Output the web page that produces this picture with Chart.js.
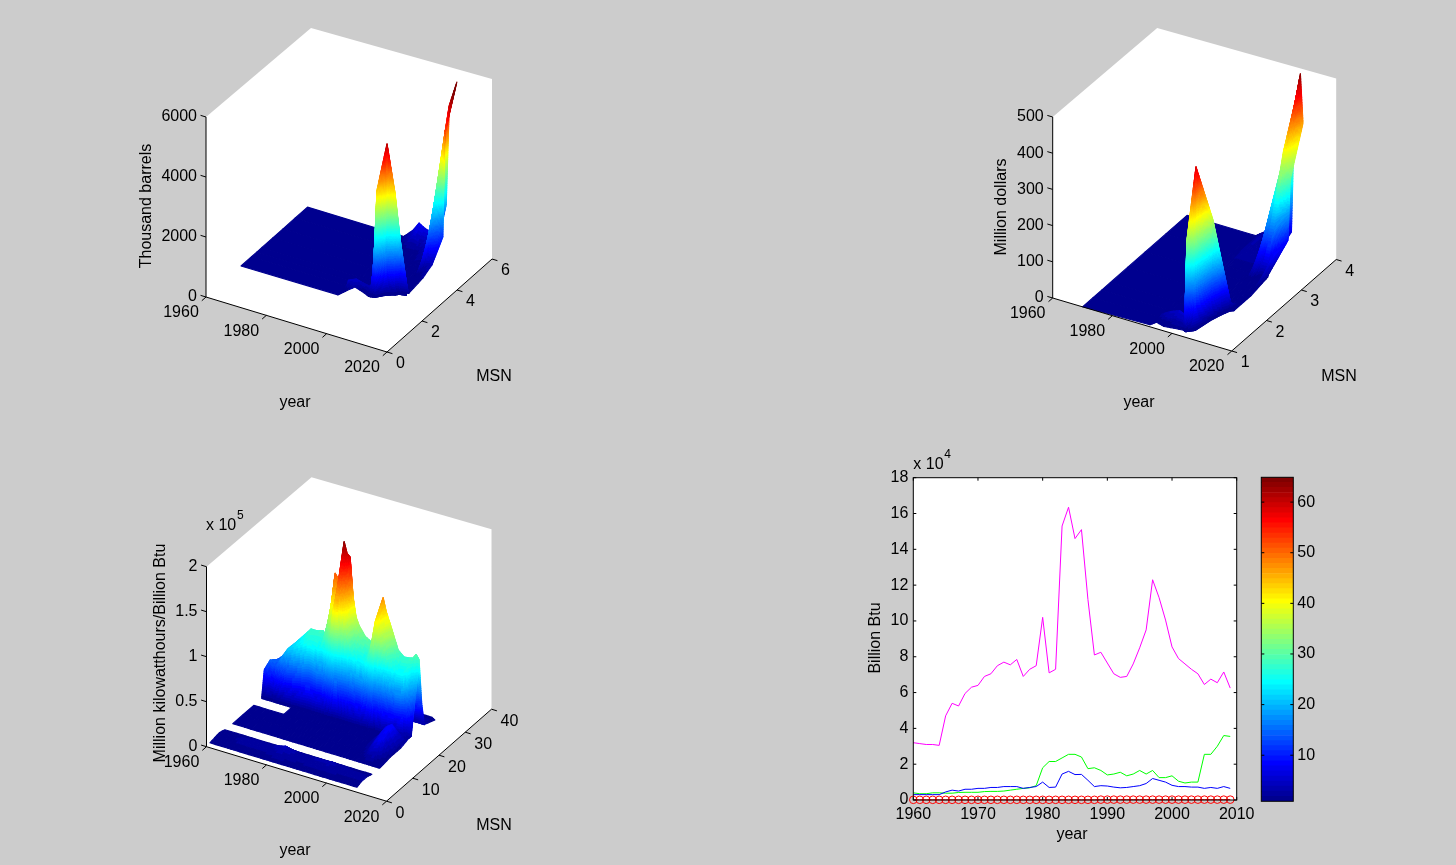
<!DOCTYPE html>
<html>
<head>
<meta charset="utf-8">
<style>
  html, body { margin: 0; padding: 0; background: #cccccc; width: 1456px; height: 865px; overflow: hidden; }
  canvas { position: absolute; }
</style>
<script src="https://cdn.jsdelivr.net/npm/chart.js@4"></script>
</head>
<body>
<canvas id="surf1" style="left:130px;top:20px" width="400" height="400"></canvas>
<canvas id="surf2" style="left:980px;top:20px" width="400" height="400"></canvas>
<canvas id="surf3" style="left:130px;top:465px" width="400" height="400"></canvas>
<canvas id="lines" style="left:860px;top:440px" width="400" height="420"></canvas>
<canvas id="cbar" style="left:1250px;top:460px" width="70" height="360"></canvas>
<script>
/********* surface 1: Thousand barrels *************/
const years1 = [1960, 1992, 1993, 1995, 1997, 1999, 2000, 2002, 2004, 2006, 2007, 2009];
const msn1 = [
  [2, 2.03, 2.37, 2.48, 2.54, 2.45, 2.4, 2.47, 2.72, 2.85, 2.95, 3],
  [2.6, 2.6, 2.45, 2.55, 2.6, 2.6, 2.65, 2.53, 2.76, 2.87, 3, 3.05],
  [2.9, 2.9, 2.9, 2.9, 2.9, 2.9, 2.9, 2.62, 2.85, 2.95, 3.1, 3.15],
  [3.2, 3.2, 3.2, 3.2, 3.2, 3.2, 3.2, 3.2, 3.3, 3.4, 3.95, 3.95],
  [3.8, 3.8, 3.8, 3.8, 3.8, 3.8, 3.8, 3.8, 3.9, 3.95, 4.46, 4.46],
  [4.4, 4.4, 4.4, 4.4, 4.4, 4.4, 4.4, 4.4, 4.5, 4.5, 4.98, 5.09],
  [5.1, 5.1, 5.1, 5.1, 5.1, 5.1, 5.1, 5.1, 5.1, 5.1, 5.55, 5.2],
  [5.8, 5.8, 5.8, 5.8, 5.8, 5.8, 5.8, 5.8, 5.8, 5.8, 5.8, 5.89]
];
const barrels = [
  [0, 0, 0, 120, 0, 0, 0, 0, 0, 0, 0, 0],
  [0, 0, 300, 350, 250, 200, 300, 3530, 5020, 3390, 1780, 200],
  [0, 0, 0, 0, 0, 0, 0, 0, 0, 0, 0, 0],
  [0, 0, 0, 0, 0, 0, 0, 0, 0, 0, 0, 90],
  [0, 0, 0, 0, 0, 0, 0, 0, 0, 0, 150, 257],
  [0, 0, 0, 0, 0, 0, 0, 0, 0, 150, 2100, 870],
  [0, 0, 0, 0, 0, 0, 0, 150, 300, 700, 4030, 4270],
  [0, 0, 100, 300, 600, 480, 450, 450, 500, 1500, 4830, 5620]
];

/********* surface 2: Million dollars *************/
const years2 = [1970, 1992, 1993, 1996, 1999, 2002, 2003, 2005, 2006, 2007, 2008, 2009];
const msn2 = [
  [1, 1.05, 1.16, 1.11, 1.14, 1.16, 1.14, 1.24, 1.6, 1.8, 1.95, 2],
  [1.3, 1.3, 1.3, 1.3, 1.3, 1.2, 1.17, 1.26, 1.66, 1.83, 1.98, 2.01],
  [1.55, 1.55, 1.55, 1.55, 1.5, 1.3, 1.3, 1.4, 1.75, 1.9, 2.02, 2.5],
  [1.8, 1.8, 1.8, 1.8, 1.8, 1.8, 1.8, 2.2, 2.3, 2.4, 2.5, 2.98],
  [2.3, 2.3, 2.3, 2.3, 2.3, 2.3, 2.3, 2.6, 2.7, 2.8, 2.8, 3.13],
  [2.8, 2.8, 2.8, 2.8, 2.8, 2.8, 2.8, 2.9, 3, 3, 3, 3.56],
  [3.4, 3.4, 3.4, 3.4, 3.4, 3.4, 3.18, 3.38, 3.73, 3.6, 3.6, 3.62],
  [4, 4, 4, 4, 4, 4, 4, 4, 4, 4, 4, 3.99]
];
const dollars = [
  [0, 0, 0, 0, 0, 0, 0, 0, 0, 0, 0, 0],
  [0, 0, 10, 25, 35, 40, 250, 450, 272, 144, 28, 0],
  [0, 0, 0, 0, 0, 0, 0, 0, 0, 0, 0, 0],
  [0, 0, 0, 0, 0, 0, 0, 0, 0, 0, 0, 11],
  [0, 0, 0, 0, 0, 0, 0, 0, 0, 0, 0, 59],
  [0, 0, 0, 0, 0, 0, 0, 0, 0, 0, 0, 64],
  [0, 0, 0, 15, 15, 15, 0, 144, 283, 300, 300, 225],
  [0, 0, 0, 18, 0, 0, 10, 40, 350, 429, 484, 351]
];

/********* surface 3: Million kilowatthours/Billion Btu, values in 10^5 *************/
const years3 = [1960, 1962, 1964, 1966, 1968, 1970, 1973, 1975, 1977, 1978, 1979, 1980, 1981, 1982, 1983, 1984, 1985, 1986, 1987, 1988, 1989, 1991, 1993, 1995, 1996, 1997, 1998, 2000, 2002, 2004, 2006, 2007, 2008, 2009];
const msn3 = [1.3, 3, 5, 7, 10, 14, 18, 21, 22, 25, 26, 27, 31];
const kwh = [
  [.01, .01, .01, .01, .01, .01, .01, .01, .01, .01, .01, .01, .01, .01, .01, .01, .01, .01, .01, .01, .01, .01, .01, .01, .01, .01, .01, .01, .01, .01, .01, .01, .01, .01],
  [.02, .02, .02, .02, .03, .03, .03, .03, .03, .04, .04, .05, .06, .06, .05, .05, .04, .04, .04, .03, .03, .04, .04, .04, .04, .05, .04, .04, .03, .03, .03, .03, .03, .03],
  [.03, .03, .03, .03, .04, .05, .05, .05, .05, .06, .07, .08, .09, .1, .09, .08, .07, .06, .05, .05, .05, .06, .07, .07, .07, .08, .07, .06, .05, .04, .04, .04, .04, .03],
  [.01, .01, .01, .01, .01, .01, .01, .01, .01, .01, .01, .01, .01, .01, .01, .01, .01, .01, .01, .01, .01, .01, .01, .01, .01, .01, .01, .01, .01, .01, .01, .01, .01, .01],
  [0, 0, 0, 0, 0, 0, 0, 0, 0, 0, 0, 0, 0, 0, 0, 0, 0, 0, 0, 0, 0, 0, 0, 0, 0, 0, 0, 0, 0, 0, 0, 0, 0, 0],
  [0, 0, 0, 0, 0, 0, 0, 0, 0, 0, 0, 0, 0, 0, 0, 0, 0, 0, 0, 0, 0, 0, 0, 0, 0, 0, 0, .02, .05, .15, .2, .1, .05, .02],
  [0, 0, 0, 0, 0, 0, 0, 0, 0, 0, 0, 0, 0, 0, 0, 0, 0, 0, 0, 0, 0, 0, 0, 0, 0, 0, 0, .03, .1, .2, .25, .15, .1, .02],
  [0, 0, 0, 0, 0, 0, 0, 0, 0, 0, 0, 0, 0, 0, 0, 0, 0, 0, 0, 0, 0, 0, 0, 0, .03, .03, 0, 0, .03, .05, .06, .06, .05, .05],
  [.29, .42, .37, .5, .61, .64, .7, .74, .72, .7, .72, .7, .75, .9, 1.2, 1.35, 1.35, 1.2, 1, .85, .75, .7, .68, .8, 1, 1.2, 1.05, .87, .75, .68, .68, .7, .4, .05],
  [.32, .35, .42, .5, .6, .68, .8, .8, .82, .78, .99, 1.2, 1.5, 1.45, 1.36, 1.88, 1.76, 1.73, 1.3, 1.08, 1, .9, .86, 1, 1.2, 1.39, 1.25, 1.06, .86, .8, .81, .82, .87, .82],
  [.3, .3, .3, .3, .3, .3, .3, .3, .3, .3, .3, .3, .3, .3, .3, .3, .3, .3, .3, .3, .3, .3, .3, .3, .3, .3, .3, .3, .3, .3, .3, .3, .31, .31],
  [.1, .1, .1, .1, .1, .1, .1, .1, .1, .1, .1, .1, .1, .1, .1, .1, .1, .1, .1, .1, .1, .1, .1, .1, .1, .1, .1, .1, .1, .05, .05, .05, .05, .05],
  [0, 0, 0, 0, 0, 0, 0, 0, 0, 0, 0, 0, 0, 0, 0, 0, 0, 0, 0, .01, .01, .01, .01, 0, 0, 0, 0, 0, 0, .02, .02, .02, .02, 0]
];
// rows with no data between them, up to the given year
const gaps3 = [{ row: 3, until: 2010 }, { row: 6, until: 1970 }];

/********* line chart, values in 10^4 Billion Btu *************/
const lineYears = [1960, 1961, 1962, 1963, 1964, 1965, 1966, 1967, 1968, 1969, 1970, 1971, 1972, 1973, 1974, 1975, 1976, 1977, 1978, 1979, 1980, 1981, 1982, 1983, 1984, 1985, 1986, 1987, 1988, 1989, 1990, 1991, 1992, 1993, 1994, 1995, 1996, 1997, 1998, 1999, 2000, 2001, 2002, 2003, 2004, 2005, 2006, 2007, 2008, 2009];
const magentaSeries = [3.2, 3.15, 3.1, 3.1, 3.05, 4.7, 5.4, 5.25, 5.95, 6.3, 6.4, 6.9, 7.05, 7.5, 7.7, 7.55, 7.85, 6.9, 7.3, 7.5, 10.2, 7.1, 7.3, 15.3, 16.35, 14.6, 15.1, 11.2, 8.1, 8.25, 7.65, 7.05, 6.85, 6.9, 7.6, 8.5, 9.5, 12.3, 11.3, 10.05, 8.55, 7.9, 7.6, 7.3, 7.05, 6.45, 6.75, 6.55, 7.15, 6.25];
const greenSeries = [.4, .35, .35, .4, .4, .38, .38, .42, .43, .43, .43, .47, .48, .48, .5, .55, .6, .65, .68, .8, 1.8, 2.15, 2.15, 2.35, 2.55, 2.55, 2.4, 1.75, 1.8, 1.65, 1.4, 1.45, 1.55, 1.35, 1.45, 1.65, 1.45, 1.65, 1.25, 1.25, 1.35, 1.05, .95, 1, 1, 2.55, 2.55, 3, 3.6, 3.55];
const blueSeries = [.3, .3, .3, .3, .3, .45, .55, .5, .6, .6, .65, .65, .7, .7, .75, .75, .75, .65, .7, .75, 1, .7, .72, 1.45, 1.6, 1.42, 1.43, 1.1, .75, .8, .78, .72, .68, .7, .75, .8, .92, 1.2, 1.1, 1, .82, .75, .75, .72, .72, .65, .7, .65, .75, .65];
const redSeries = [.01, .01, .01, .01, .01, .01, .01, .01, .01, .01, .01, .01, .01, .01, .01, .01, .01, .01, .01, .01, .01, .01, .01, .01, .01, .01, .01, .01, .01, .02, .02, .02, .02, .02, .02, .02, .02, .02, .02, .02, .02, .02, .02, .02, .02, .02, .02, .02, .02, .02];

const xTicks = [1960, 1970, 1980, 1990, 2000, 2010];
const yTicks = [0, 2, 4, 6, 8, 10, 12, 14, 16, 18];
const colorTicks = [10, 20, 30, 40, 50, 60];

const FONT = '"Liberation Sans", Arial, sans-serif';

// matlab jet colormap, i from 0 to 63
const jet = (i) => {
  const v = (i + 1) / 64;
  const ch = (a) => Math.round(255 * Math.max(0, Math.min(1, a)));
  const r = ch(Math.min(4 * v - 1.5, -4 * v + 4.5));
  const g = ch(Math.min(4 * v - 0.5, -4 * v + 3.5));
  const b = ch(Math.min(4 * v + 0.5, -4 * v + 2.5));
  return "rgb(" + r + "," + g + "," + b + ")";
};

const label = (ctx, text, x, y, align, size, rot) => {
  ctx.save();
  ctx.translate(x, y);
  if (rot) ctx.rotate(rot);
  ctx.font = (size || 16) + "px " + FONT;
  ctx.fillStyle = "#000";
  ctx.textAlign = align || "center";
  ctx.textBaseline = "middle";
  ctx.fillText(text, 0, 0);
  ctx.restore();
};

/********* 3d view *************/
const project = (p, year, msn, z) => {
  const t = (year - p.yearMin) / (p.yearMax - p.yearMin);
  const s = (msn - p.msnMin) / (p.msnMax - p.msnMin);
  const w = z / p.zMax;
  return {
    x: p.ox + p.yearDx * t + p.msnDx * s,
    y: p.oy + p.yearDy * t + p.msnDy * s + p.zDy * w
  };
};

const meshPoints = (p) => {
  const pts = [];
  p.values.forEach((row, r) => {
    row.forEach((z, c) => {
      const m = Array.isArray(p.msn[r]) ? p.msn[r][c] : p.msn[r];
      pts.push(project(p, p.years[c], m, z));
    });
  });
  return pts;
};

const drawSurface = (chart, p) => {
  const ctx = chart.ctx;
  const meta = chart.getDatasetMeta(0).data;
  const cols = p.years.length;
  const rows = p.values.length;
  const vert = (r, c) => ({ x: meta[r * cols + c].x, y: meta[r * cols + c].y, z: p.values[r][c] / p.colorMax * 64 });
  const isGap = (r, c) => (p.gaps || []).some((g) => g.row === r && p.years[c] < g.until);

  ctx.save();
  ctx.lineWidth = 1.1;
  ctx.lineJoin = "round";
  for (let r = rows - 2; r >= 0; r--) {
    for (let c = 0; c < cols - 1; c++) {
      if (isGap(r, c)) continue;
      const a = vert(r, c), b = vert(r, c + 1), d = vert(r + 1, c), e = vert(r + 1, c + 1);
      const nu = Math.min(80, Math.ceil(Math.max(Math.abs(d.z - a.z), Math.abs(e.z - b.z))) + 1);
      const nv = Math.min(80, Math.ceil(Math.max(Math.abs(b.z - a.z), Math.abs(e.z - d.z))) + 1);
      const at = (u, v) => {
        const k = (f) => (1 - u) * ((1 - v) * a[f] + v * b[f]) + u * ((1 - v) * d[f] + v * e[f]);
        return { x: k("x"), y: k("y"), z: k("z") };
      };
      for (let iu = nu - 1; iu >= 0; iu--) {
        for (let iv = 0; iv < nv; iv++) {
          const u0 = iu / nu, u1 = (iu + 1) / nu, v0 = iv / nv, v1 = (iv + 1) / nv;
          const q = [at(u0, v0), at(u0, v1), at(u1, v1), at(u1, v0)];
          const mid = at((u0 + u1) / 2, (v0 + v1) / 2);
          const col = jet(Math.max(0, Math.min(63, Math.floor(mid.z))));
          ctx.fillStyle = col;
          ctx.strokeStyle = col;
          ctx.beginPath();
          ctx.moveTo(q[0].x, q[0].y);
          ctx.lineTo(q[1].x, q[1].y);
          ctx.lineTo(q[2].x, q[2].y);
          ctx.lineTo(q[3].x, q[3].y);
          ctx.closePath();
          ctx.fill();
          ctx.stroke();
        }
      }
    }
  }
  ctx.restore();
};

const box3d = {
  id: "box3d",
  beforeDatasetsDraw(chart) {
    const p = chart.options.plugins.box3d;
    const ctx = chart.ctx;
    const sx = chart.scales.x, sy = chart.scales.y;
    const px = (year, msn, z) => {
      const q = project(p, year, msn, z);
      return [sx.getPixelForValue(q.x), sy.getPixelForValue(q.y)];
    };
    const backCorner = px(p.yearMin, p.msnMax, p.zMax);
    const hull = [
      px(p.yearMin, p.msnMin, p.zMax), [backCorner[0], backCorner[1] + p.cornerDrop], px(p.yearMax, p.msnMax, p.zMax),
      px(p.yearMax, p.msnMax, 0), px(p.yearMax, p.msnMin, 0), px(p.yearMin, p.msnMin, 0)
    ];
    ctx.fillStyle = "#fff";
    ctx.beginPath();
    hull.forEach((h, i) => (i ? ctx.lineTo(h[0], h[1]) : ctx.moveTo(h[0], h[1])));
    ctx.closePath();
    ctx.fill();
    drawSurface(chart, p);
  },
  afterDatasetsDraw(chart) {
    const p = chart.options.plugins.box3d;
    const ctx = chart.ctx;
    const sx = chart.scales.x, sy = chart.scales.y;
    const px = (year, msn, z) => {
      const q = project(p, year, msn, z);
      return [sx.getPixelForValue(q.x), sy.getPixelForValue(q.y)];
    };
    const seg = (a, b) => { ctx.moveTo(a[0], a[1]); ctx.lineTo(b[0], b[1]); };

    ctx.save();
    ctx.strokeStyle = "#000";
    ctx.lineWidth = 1;
    ctx.beginPath();
    seg(px(p.yearMin, p.msnMin, 0), px(p.yearMin, p.msnMin, p.zMax));
    seg(px(p.yearMin, p.msnMin, 0), px(p.yearMax, p.msnMin, 0));
    seg(px(p.yearMax, p.msnMin, 0), px(p.yearMax, p.msnMax, 0));
    const tickYear = (p.yearMax - p.yearMin) * 0.03;
    const tickMsn = (p.msnMax - p.msnMin) * 0.04;
    p.zTicks.forEach((v) => seg(px(p.yearMin, p.msnMin, v), px(p.yearMin - tickYear, p.msnMin, v)));
    p.yearTicks.forEach((v) => seg(px(v, p.msnMin, 0), px(v, p.msnMin - tickMsn, 0)));
    p.msnTicks.forEach((v) => seg(px(p.yearMax, v, 0), px(p.yearMax + tickYear, v, 0)));
    ctx.stroke();
    ctx.restore();

    p.zTicks.forEach((v, i) => {
      const a = px(p.yearMin, p.msnMin, v);
      label(ctx, p.zLabels[i], a[0] - 9, a[1], "right");
    });
    p.yearTicks.forEach((v) => {
      const a = px(v, p.msnMin, 0);
      label(ctx, String(v), a[0] - 25, a[1] + 16);
    });
    p.msnTicks.forEach((v) => {
      const a = px(p.yearMax, v, 0);
      label(ctx, String(v), a[0] + 9, a[1] + 12, "left");
    });
    const tl = p.titles;
    label(ctx, "year", tl.year[0] - p.left, tl.year[1] - p.top);
    label(ctx, "MSN", tl.msn[0] - p.left, tl.msn[1] - p.top);
    label(ctx, tl.z, tl.zPos[0] - p.left, tl.zPos[1] - p.top, "center", 16, -Math.PI / 2);
    if (tl.exp) {
      label(ctx, "x 10", tl.expPos[0] - p.left, tl.expPos[1] - p.top, "left");
      label(ctx, tl.exp, tl.expPos[0] - p.left + 31, tl.expPos[1] - p.top - 10, "left", 12);
    }
  }
};

const surfaceChart = (id, p) => {
  const el = document.getElementById(id);
  p.left = parseFloat(el.style.left);
  p.top = parseFloat(el.style.top);
  return new Chart(el, {
    type: "scatter",
    data: { datasets: [{ data: meshPoints(p), pointRadius: 0, showLine: false, parsing: false }] },
    plugins: [box3d],
    options: {
      responsive: false,
      animation: false,
      events: [],
      layout: { padding: 0 },
      plugins: { legend: { display: false }, tooltip: { enabled: false }, box3d: p },
      scales: {
        x: { type: "linear", display: false, min: p.left, max: p.left + el.width },
        y: { type: "linear", display: false, reverse: true, min: p.top, max: p.top + el.height }
      }
    }
  });
};

surfaceChart("surf1", {
  years: years1, msn: msn1, values: barrels, colorMax: 5300, cornerDrop: 4,
  ox: 206, oy: 297, yearDx: 181, yearDy: 55, msnDx: 105, msnDy: -93, zDy: -180,
  yearMin: 1960, yearMax: 2020, msnMin: 0, msnMax: 6, zMax: 6000,
  zTicks: [0, 2000, 4000, 6000], zLabels: ["0", "2000", "4000", "6000"],
  yearTicks: [1960, 1980, 2000, 2020], msnTicks: [0, 2, 4, 6],
  titles: { year: [295, 403], msn: [494, 377], z: "Thousand barrels", zPos: [147, 206] }
});

surfaceChart("surf2", {
  years: years2, msn: msn2, values: dollars, colorMax: 490, cornerDrop: 2.5,
  ox: 1052.7, oy: 298, yearDx: 179, yearDy: 53, msnDx: 104.5, msnDy: -91.5, zDy: -181,
  yearMin: 1960, yearMax: 2020, msnMin: 1, msnMax: 4, zMax: 500,
  zTicks: [0, 100, 200, 300, 400, 500], zLabels: ["0", "100", "200", "300", "400", "500"],
  yearTicks: [1960, 1980, 2000, 2020], msnTicks: [1, 2, 3, 4],
  titles: { year: [1139, 403], msn: [1339, 377], z: "Million dollars", zPos: [1002, 207] }
});

surfaceChart("surf3", {
  years: years3, msn: msn3, values: kwh, gaps: gaps3, colorMax: 1.9, cornerDrop: 2.6,
  ox: 206.5, oy: 746.7, yearDx: 180, yearDy: 54.5, msnDx: 105, msnDy: -92, zDy: -180,
  yearMin: 1960, yearMax: 2020, msnMin: 0, msnMax: 40, zMax: 2,
  zTicks: [0, .5, 1, 1.5, 2], zLabels: ["0", "0.5", "1", "1.5", "2"],
  yearTicks: [1960, 1980, 2000, 2020], msnTicks: [0, 10, 20, 30, 40],
  titles: { year: [295, 851], msn: [494, 826], z: "Million kilowatthours/Billion Btu", zPos: [161, 653], exp: "5", expPos: [206, 526] }
});

/********* line chart *************/
const innerTicks = (ctx, scale, area, horizontal, values) => {
  values.forEach((v) => {
    const at = scale.getPixelForValue(v);
    if (horizontal) {
      ctx.moveTo(at, area.bottom); ctx.lineTo(at, area.bottom - 3);
      ctx.moveTo(at, area.top); ctx.lineTo(at, area.top + 3);
    } else {
      ctx.moveTo(area.left, at); ctx.lineTo(area.left + 3, at);
      ctx.moveTo(area.right, at); ctx.lineTo(area.right - 3, at);
    }
  });
};

const framePlugin = {
  id: "frame",
  beforeDatasetsDraw(chart) {
    const a = chart.chartArea;
    chart.ctx.fillStyle = "#fff";
    chart.ctx.fillRect(a.left, a.top, a.right - a.left, a.bottom - a.top);
  },
  afterDraw(chart) {
    const a = chart.chartArea;
    const ctx = chart.ctx;
    ctx.save();
    ctx.strokeStyle = "#000";
    ctx.lineWidth = 1;
    ctx.strokeRect(a.left, a.top, a.right - a.left, a.bottom - a.top);
    ctx.beginPath();
    if (chart.canvas.id === "lines") {
      innerTicks(ctx, chart.scales.x, a, true, xTicks);
      innerTicks(ctx, chart.scales.y, a, false, yTicks);
    } else {
      innerTicks(ctx, chart.scales.y, a, false, colorTicks);
    }
    ctx.stroke();
    ctx.restore();
    if (chart.canvas.id === "lines") {
      label(ctx, "x 10", a.left, a.top - 13, "left");
      label(ctx, "4", a.left + 31, a.top - 23, "left", 12);
      label(ctx, "year", 1072 - 860, 835 - 440);
      label(ctx, "Billion Btu", 875.5 - 860, 638 - 440, "center", 16, -Math.PI / 2);
    }
  }
};

const lineSet = (data, color, extra) => Object.assign({
  data: lineYears.map((y, i) => ({ x: y, y: data[i] })),
  borderColor: color,
  borderWidth: 1,
  pointRadius: 0,
  tension: 0,
  clip: false
}, extra);

new Chart(document.getElementById("lines"), {
  type: "line",
  data: {
    datasets: [
      lineSet(redSeries, "#ff0000", { pointRadius: 3.8, pointBorderColor: "#ff0000", pointBackgroundColor: "rgba(0,0,0,0)", pointBorderWidth: 1 }),
      lineSet(blueSeries, "#0000ff"),
      lineSet(greenSeries, "#00ff00"),
      lineSet(magentaSeries, "#ff00ff")
    ]
  },
  plugins: [framePlugin],
  options: {
    responsive: false,
    animation: false,
    events: [],
    layout: { padding: { top: 37.7, right: 23.3, left: 0, bottom: 0 } },
    plugins: { legend: { display: false }, tooltip: { enabled: false } },
    scales: {
      x: {
        type: "linear", min: 1960, max: 2010,
        grid: { display: false, drawTicks: false }, border: { display: false },
        afterBuildTicks: (s) => { s.ticks = xTicks.map((v) => ({ value: v })); },
        afterFit: (s) => { s.height = 60; s.paddingLeft = 0; s.paddingRight = 0; },
        ticks: { color: "#000", font: { family: FONT, size: 16 }, maxRotation: 0, padding: 5, callback: (v) => String(v) }
      },
      y: {
        type: "linear", min: 0, max: 18,
        grid: { display: false, drawTicks: false }, border: { display: false },
        afterBuildTicks: (s) => { s.ticks = yTicks.map((v) => ({ value: v })); },
        afterFit: (s) => { s.width = 53.3; s.paddingTop = 0; s.paddingBottom = 0; },
        ticks: { color: "#000", font: { family: FONT, size: 16 }, padding: 5 }
      }
    }
  }
});

/********* colorbar *************/
const colorSets = [];
for (let i = 0; i < 64; i++) {
  colorSets.push({ data: [[0.9 + i, 1.9 + i]], backgroundColor: jet(i), borderWidth: 0, barPercentage: 1, categoryPercentage: 1 });
}

new Chart(document.getElementById("cbar"), {
  type: "bar",
  data: { labels: [""], datasets: colorSets },
  plugins: [framePlugin],
  options: {
    responsive: false,
    animation: false,
    events: [],
    layout: { padding: { top: 17.3, left: 11.3, bottom: 18.7, right: 0 } },
    plugins: { legend: { display: false }, tooltip: { enabled: false } },
    scales: {
      x: { display: false, stacked: false, grid: { display: false } },
      y: {
        type: "linear", position: "right", min: 0.9, max: 64.9,
        grid: { display: false, drawTicks: false }, border: { display: false },
        afterBuildTicks: (s) => { s.ticks = colorTicks.map((v) => ({ value: v })); },
        afterFit: (s) => { s.width = 26.7; s.paddingTop = 0; s.paddingBottom = 0; },
        ticks: { color: "#000", font: { family: FONT, size: 16 }, padding: 4 }
      }
    },
    datasets: { bar: { grouped: false } }
  }
});
</script>
</body>
</html>
